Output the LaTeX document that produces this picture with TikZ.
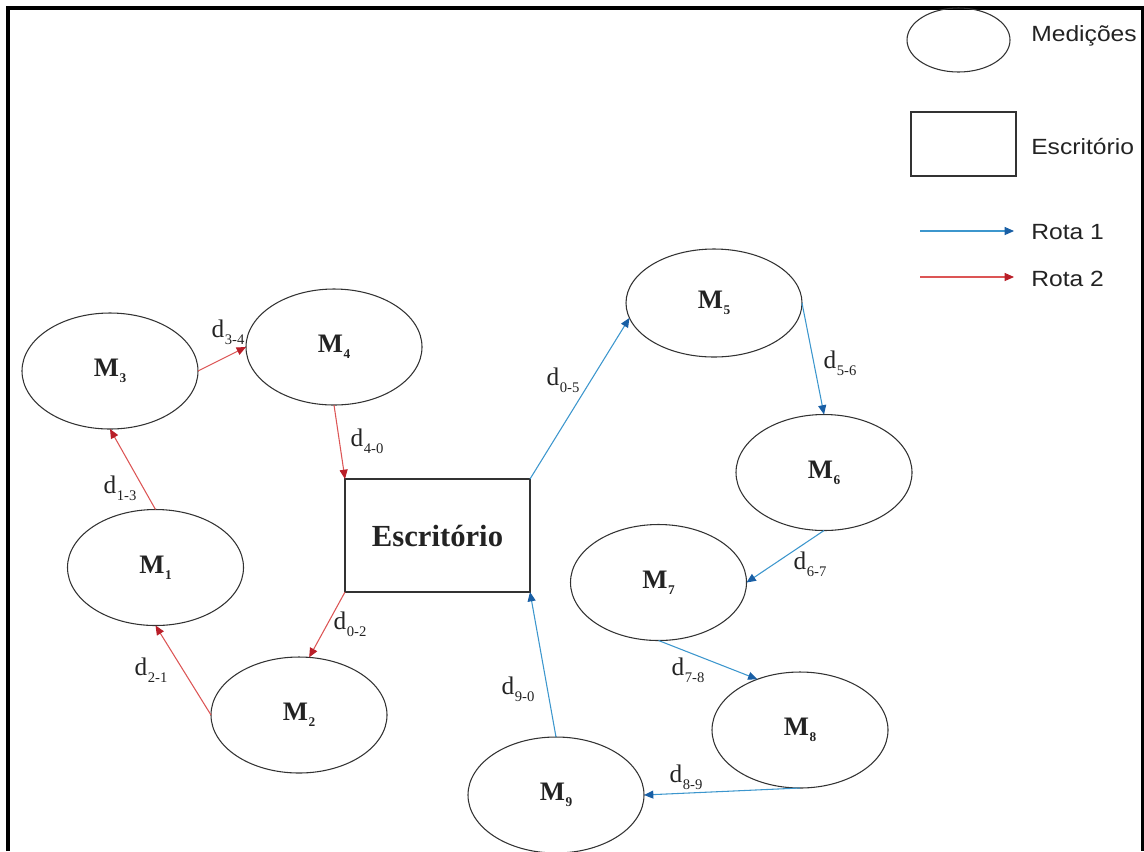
\documentclass[tikz,border=0pt]{standalone}
\usepackage{fontspec}
\setmainfont{Liberation Serif}
\newfontfamily\legfont[FakeStretch=1.12]{Liberation Sans}
\usetikzlibrary{shapes.geometric,arrows.meta}
\definecolor{bline}{RGB}{60,150,205}
\definecolor{bhead}{RGB}{25,95,165}
\definecolor{rline}{RGB}{220,85,85}
\definecolor{rhead}{RGB}{185,30,40}
\definecolor{edgec}{RGB}{50,50,50}
\definecolor{txtc}{RGB}{35,35,35}
\newcommand{\mlab}[1]{M\kern0.5pt\raisebox{-0.5ex}{\fontsize{10}{10}\selectfont #1}}
\newcommand{\dlab}[1]{d\kern0.5pt\raisebox{-0.6ex}{\fontsize{11}{11}\selectfont #1}}
\begin{document}
\begin{tikzpicture}[x=0.75pt,y=-0.75pt,
  meas/.style={ellipse,draw=edgec,line width=0.8pt,minimum width=132pt,minimum height=87pt,inner sep=0pt,outer sep=0pt,text=txtc,font=\fontsize{20}{20}\selectfont\bfseries},
  office/.style={rectangle,draw=edgec,line width=1.1pt,minimum width=138.75pt,minimum height=84.75pt,inner sep=0pt,outer sep=0pt,text=txtc,font=\fontsize{23}{23}\selectfont\bfseries},
  rota1/.style={draw=bline,line width=0.8pt,-{Triangle[length=7pt,width=6pt,fill=bhead,color=bhead]}},
  rota2/.style={draw=rline,line width=0.8pt,-{Triangle[length=7pt,width=6pt,fill=rhead,color=rhead]}},
  dist/.style={inner sep=0pt,text=txtc,font=\fontsize{19}{19}\selectfont},
  legtext/.style={anchor=west,inner sep=0pt,text=txtc,font=\legfont\fontsize{16.5}{16.5}\selectfont},
  frameline/.style={line width=3pt,line join=miter}]
\useasboundingbox (0,0) rectangle (1144,851);
\draw[frameline] (8,851) -- (8,8) -- (1143,8) -- (1143,851);
% measurement nodes
\node[meas] (m3) at (110,371) {\mlab{3}};
\node[meas] (m4) at (334,347) {\mlab{4}};
\node[meas] (m1) at (155.5,567.5) {\mlab{1}};
\node[meas] (m2) at (299,715) {\mlab{2}};
\node[office] (esc) at (437.5,535.5) {Escritório};
\node[meas,minimum height=81pt] (m5) at (714,303) {\mlab{5}};
\node[meas] (m6) at (824,472.5) {\mlab{6}};
\node[meas] (m7) at (658.5,582.5) {\mlab{7}};
\node[meas] (m8) at (800,730) {\mlab{8}};
\node[meas] (m9) at (556,795) {\mlab{9}};
% route 2
\draw[rota2] (m3.east) -- (m4.west);
\draw[rota2] (m4.south) -- (esc.north west);
\draw[rota2] (m1.north) -- (m3.south);
\draw[rota2] (m2.west) -- (m1.south);
\draw[rota2] (esc.south west) -- (m2.80);
% route 1
\draw[rota1] (esc.north east) -- (m5.190);
\draw[rota1] (m5.east) -- (m6.north);
\draw[rota1] (m6.south) -- (m7.east);
\draw[rota1] (m7.south) -- (m8.130);
\draw[rota1] (m8.south) -- (m9.east);
\draw[rota1] (m9.north) -- (esc.south east);
% distance labels
\node[dist] (l34) at (228,332) {\dlab{3-4}};
\node[dist] (l40) at (367,441) {\dlab{4-0}};
\node[dist] (l13) at (120,488) {\dlab{1-3}};
\node[dist] (l21) at (151,670) {\dlab{2-1}};
\node[dist] (l02) at (350,624) {\dlab{0-2}};
\node[dist] (l05) at (563,380) {\dlab{0-5}};
\node[dist] (l56) at (840,363) {\dlab{5-6}};
\node[dist] (l67) at (810,564) {\dlab{6-7}};
\node[dist] (l78) at (688,670) {\dlab{7-8}};
\node[dist] (l89) at (686,777) {\dlab{8-9}};
\node[dist] (l90) at (518,689) {\dlab{9-0}};
% legend
\node[ellipse,draw=edgec,line width=0.8pt,minimum width=77.25pt,minimum height=48pt,inner sep=0pt] (lm) at (958.5,40) {};
\node[rectangle,draw=edgec,line width=1pt,minimum width=78.75pt,minimum height=48pt,inner sep=0pt] (lo) at (963.5,144) {};
\node[legtext] (tm) at (1031,36) {Medições};
\node[legtext] (to) at (1031,146) {Escritório};
\coordinate (r1a) at (920,231);
\coordinate (r1b) at (1014,231);
\draw[rota1] (r1a) -- (r1b);
\node[legtext] (t1) at (1031,232) {Rota 1};
\coordinate (r2a) at (920,277);
\coordinate (r2b) at (1014,277);
\draw[rota2] (r2a) -- (r2b);
\node[legtext] (t2) at (1031,279) {Rota 2};
\end{tikzpicture}
\end{document}
